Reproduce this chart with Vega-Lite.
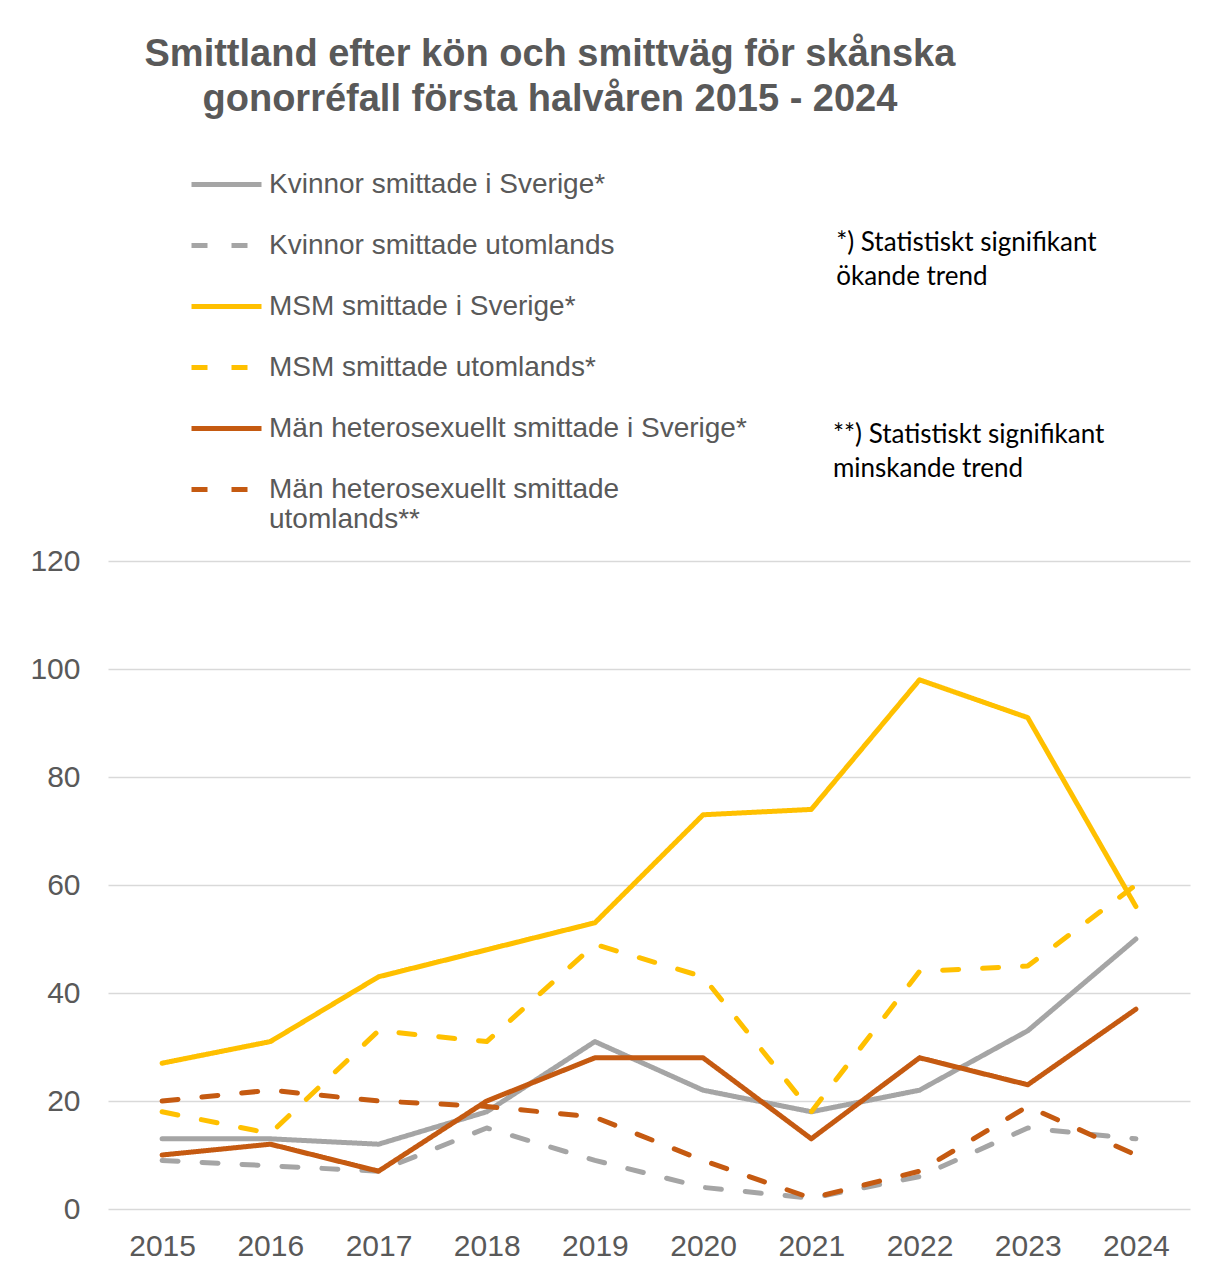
{
  "$schema": "https://vega.github.io/schema/vega-lite/v6.json",
  "autosize": {"type": "none"},
  "width": 1082,
  "height": 648,
  "padding": {"left": 108, "top": 561, "right": 19, "bottom": 63},
  "background": "white",
  "config": {
    "view": {"stroke": null},
    "font": "Liberation Sans"
  },
  "title": {
    "text": ["Smittland efter kön och smittväg för skånska", "gonorréfall första halvåren 2015 - 2024"],
    "font": "Liberation Sans",
    "fontSize": 38,
    "fontWeight": "bold",
    "color": "#595959",
    "anchor": "start",
    "align": "center",
    "dx": 520,
    "lineHeight": 45,
    "offset": 28
  },
  "datasets": {
    "series": [
      {"year": 2015, "value": 13, "series": "Kvinnor smittade i Sverige*"},
      {"year": 2016, "value": 13, "series": "Kvinnor smittade i Sverige*"},
      {"year": 2017, "value": 12, "series": "Kvinnor smittade i Sverige*"},
      {"year": 2018, "value": 18, "series": "Kvinnor smittade i Sverige*"},
      {"year": 2019, "value": 31, "series": "Kvinnor smittade i Sverige*"},
      {"year": 2020, "value": 22, "series": "Kvinnor smittade i Sverige*"},
      {"year": 2021, "value": 18, "series": "Kvinnor smittade i Sverige*"},
      {"year": 2022, "value": 22, "series": "Kvinnor smittade i Sverige*"},
      {"year": 2023, "value": 33, "series": "Kvinnor smittade i Sverige*"},
      {"year": 2024, "value": 50, "series": "Kvinnor smittade i Sverige*"},
      {"year": 2015, "value": 9, "series": "Kvinnor smittade utomlands"},
      {"year": 2016, "value": 8, "series": "Kvinnor smittade utomlands"},
      {"year": 2017, "value": 7, "series": "Kvinnor smittade utomlands"},
      {"year": 2018, "value": 15, "series": "Kvinnor smittade utomlands"},
      {"year": 2019, "value": 9, "series": "Kvinnor smittade utomlands"},
      {"year": 2020, "value": 4, "series": "Kvinnor smittade utomlands"},
      {"year": 2021, "value": 2, "series": "Kvinnor smittade utomlands"},
      {"year": 2022, "value": 6, "series": "Kvinnor smittade utomlands"},
      {"year": 2023, "value": 15, "series": "Kvinnor smittade utomlands"},
      {"year": 2024, "value": 13, "series": "Kvinnor smittade utomlands"},
      {"year": 2015, "value": 27, "series": "MSM smittade i Sverige*"},
      {"year": 2016, "value": 31, "series": "MSM smittade i Sverige*"},
      {"year": 2017, "value": 43, "series": "MSM smittade i Sverige*"},
      {"year": 2018, "value": 48, "series": "MSM smittade i Sverige*"},
      {"year": 2019, "value": 53, "series": "MSM smittade i Sverige*"},
      {"year": 2020, "value": 73, "series": "MSM smittade i Sverige*"},
      {"year": 2021, "value": 74, "series": "MSM smittade i Sverige*"},
      {"year": 2022, "value": 98, "series": "MSM smittade i Sverige*"},
      {"year": 2023, "value": 91, "series": "MSM smittade i Sverige*"},
      {"year": 2024, "value": 56, "series": "MSM smittade i Sverige*"},
      {"year": 2015, "value": 18, "series": "MSM smittade utomlands*"},
      {"year": 2016, "value": 14, "series": "MSM smittade utomlands*"},
      {"year": 2017, "value": 33, "series": "MSM smittade utomlands*"},
      {"year": 2018, "value": 31, "series": "MSM smittade utomlands*"},
      {"year": 2019, "value": 49, "series": "MSM smittade utomlands*"},
      {"year": 2020, "value": 43, "series": "MSM smittade utomlands*"},
      {"year": 2021, "value": 18, "series": "MSM smittade utomlands*"},
      {"year": 2022, "value": 44, "series": "MSM smittade utomlands*"},
      {"year": 2023, "value": 45, "series": "MSM smittade utomlands*"},
      {"year": 2024, "value": 60, "series": "MSM smittade utomlands*"},
      {"year": 2015, "value": 10, "series": "Män heterosexuellt smittade i Sverige*"},
      {"year": 2016, "value": 12, "series": "Män heterosexuellt smittade i Sverige*"},
      {"year": 2017, "value": 7, "series": "Män heterosexuellt smittade i Sverige*"},
      {"year": 2018, "value": 20, "series": "Män heterosexuellt smittade i Sverige*"},
      {"year": 2019, "value": 28, "series": "Män heterosexuellt smittade i Sverige*"},
      {"year": 2020, "value": 28, "series": "Män heterosexuellt smittade i Sverige*"},
      {"year": 2021, "value": 13, "series": "Män heterosexuellt smittade i Sverige*"},
      {"year": 2022, "value": 28, "series": "Män heterosexuellt smittade i Sverige*"},
      {"year": 2023, "value": 23, "series": "Män heterosexuellt smittade i Sverige*"},
      {"year": 2024, "value": 37, "series": "Män heterosexuellt smittade i Sverige*"},
      {"year": 2015, "value": 20, "series": "Män heterosexuellt smittade utomlands**"},
      {"year": 2016, "value": 22, "series": "Män heterosexuellt smittade utomlands**"},
      {"year": 2017, "value": 20, "series": "Män heterosexuellt smittade utomlands**"},
      {"year": 2018, "value": 19, "series": "Män heterosexuellt smittade utomlands**"},
      {"year": 2019, "value": 17, "series": "Män heterosexuellt smittade utomlands**"},
      {"year": 2020, "value": 9, "series": "Män heterosexuellt smittade utomlands**"},
      {"year": 2021, "value": 2, "series": "Män heterosexuellt smittade utomlands**"},
      {"year": 2022, "value": 7, "series": "Män heterosexuellt smittade utomlands**"},
      {"year": 2023, "value": 19, "series": "Män heterosexuellt smittade utomlands**"},
      {"year": 2024, "value": 10, "series": "Män heterosexuellt smittade utomlands**"}
    ],
    "notes": [
      {"x": 2021.23, "y": 178.9, "note": "*) Statistiskt signifikant"},
      {"x": 2021.23, "y": 172.6, "note": "ökande trend"},
      {"x": 2021.2, "y": 143.3, "note": "**) Statistiskt signifikant"},
      {"x": 2021.2, "y": 137.0, "note": "minskande trend"}
    ]
  },
  "layer": [
    {
      "data": {"name": "series"},
      "mark": {"type": "line", "strokeWidth": 5, "strokeCap": "round", "strokeJoin": "round"},
      "encoding": {
        "x": {
          "field": "year", "type": "quantitative",
          "scale": {"domain": [2014.5, 2024.5], "nice": false, "zero": false},
          "axis": {
            "title": null, "values": [2015, 2016, 2017, 2018, 2019, 2020, 2021, 2022, 2023, 2024],
            "format": "d", "grid": false, "domain": false, "ticks": false, "tickSize": 0,
            "labelFontSize": 30, "labelColor": "#595959", "labelFont": "Liberation Sans",
            "labelPadding": 22
          }
        },
        "y": {
          "field": "value", "type": "quantitative",
          "scale": {"domain": [0, 120], "nice": false},
          "axis": {
            "title": null, "values": [0, 20, 40, 60, 80, 100, 120],
            "grid": true, "gridColor": "#d9d9d9", "gridWidth": 1.5,
            "domain": false, "ticks": false, "tickSize": 0,
            "labelFontSize": 30, "labelColor": "#595959", "labelFont": "Liberation Sans",
            "labelPadding": 28
          }
        },
        "color": {
          "field": "series", "type": "nominal",
          "scale": {
            "domain": ["Kvinnor smittade i Sverige*", "Kvinnor smittade utomlands", "MSM smittade i Sverige*", "MSM smittade utomlands*", "Män heterosexuellt smittade i Sverige*", "Män heterosexuellt smittade utomlands**"],
            "range": ["#A5A5A5", "#A5A5A5", "#FFC000", "#FFC000", "#C55A11", "#C55A11"]
          },
          "legend": {
            "title": null, "orient": "none", "legendX": 81, "legendY": -414,
            "direction": "vertical", "columns": 1,
            "symbolType": "stroke", "symbolSize": 4900, "symbolStrokeWidth": 5,
            "labelFontSize": 28, "labelColor": "#595959", "labelFont": "Liberation Sans",
            "labelLimit": 1000, "labelOffset": 5, "rowPadding": 9, "padding": 0,
            "labelExpr": "datum.label == 'Män heterosexuellt smittade utomlands**' ? ['Män heterosexuellt smittade', 'utomlands**'] : datum.label"
          }
        },
        "strokeDash": {
          "field": "series", "type": "nominal",
          "scale": {
            "domain": ["Kvinnor smittade i Sverige*", "Kvinnor smittade utomlands", "MSM smittade i Sverige*", "MSM smittade utomlands*", "Män heterosexuellt smittade i Sverige*", "Män heterosexuellt smittade utomlands**"],
            "range": [[1, 0], [16, 24], [1, 0], [16, 24], [1, 0], [16, 24]]
          },
          "legend": {
            "title": null, "orient": "none", "legendX": 81, "legendY": -414,
            "direction": "vertical", "columns": 1,
            "symbolType": "stroke", "symbolSize": 4900, "symbolStrokeWidth": 5,
            "labelFontSize": 28, "labelColor": "#595959", "labelFont": "Liberation Sans",
            "labelLimit": 1000, "labelOffset": 5, "rowPadding": 9, "padding": 0,
            "labelExpr": "datum.label == 'Män heterosexuellt smittade utomlands**' ? ['Män heterosexuellt smittade', 'utomlands**'] : datum.label"
          }
        },
        "order": {"field": "year", "type": "quantitative"}
      }
    },
    {
      "data": {"name": "notes"},
      "mark": {"type": "text", "align": "left", "baseline": "middle", "font": "Lato", "fontSize": 26, "color": "#000000", "clip": false},
      "encoding": {
        "x": {"field": "x", "type": "quantitative"},
        "y": {"field": "y", "type": "quantitative"},
        "text": {"field": "note", "type": "nominal"}
      }
    }
  ]
}
